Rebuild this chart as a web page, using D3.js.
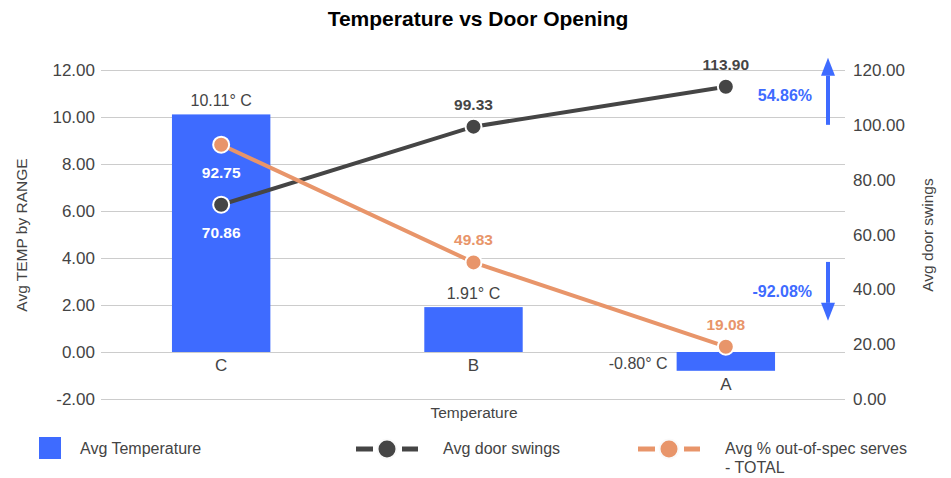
<!DOCTYPE html>
<html lang="en">
<head>
  <meta charset="UTF-8">
  <title>Temperature vs Door Opening</title>
  <script src="https://d3js.org/d3.v7.min.js"></script>
  <style>
    body { margin: 0; background: #fff; font-family: "Liberation Sans", Arial, sans-serif; }
    .tick-label { font-size: 17px; fill: #444; }
    .axis-title { font-size: 15.5px; fill: #444; }
    .legend-text { font-size: 16px; fill: #444; }
  </style>
</head>
<body>
  <div id="chart"></div>
  <script>
    const categories = ["C", "B", "A"];
    const avgTemp = [10.11, 1.91, -0.80];
    const doorSwings = [70.86, 99.33, 113.90];
    const outOfSpec = [92.75, 49.83, 19.08];
    const leftTicks = [-2, 0, 2, 4, 6, 8, 10, 12];
    const rightTicks = [0, 20, 40, 60, 80, 100, 120];
    // change annotations: [label, from, to] on the right axis
    const changes = [["54.86%", 100, 124.5], ["-92.08%", 50, 28.5]];

    const W = 951, H = 478;
    const blue = "#3e6bff", dark = "#454545", orange = "#e8956a";
    const fmt = d3.formatLocale({ decimal: ".", thousands: ",", grouping: [3], currency: ["", ""], minus: "-" }).format(".2f");

    const svg = d3.select("#chart").append("svg")
      .attr("width", W).attr("height", H);

    const x = d3.scaleBand().domain(categories).range([95, 852]).paddingInner(0.61).paddingOuter(0.305);
    const yL = d3.scaleLinear().domain([-2, 12]).range([399, 70]);
    const yR = d3.scaleLinear().domain([0, 120]).range([399, 70]);
    const cx = d => x(d) + x.bandwidth() / 2;

    // title
    svg.append("text").attr("x", 478).attr("y", 26).attr("text-anchor", "middle")
      .style("font-size", "21px").style("font-weight", "bold").attr("fill", "#000")
      .text("Temperature vs Door Opening");

    // gridlines
    svg.append("g").selectAll("line").data(leftTicks).enter().append("line")
      .attr("x1", 101).attr("x2", 845)
      .attr("y1", d => yL(d) + 0.5).attr("y2", d => yL(d) + 0.5)
      .attr("stroke", "#cccccc").attr("stroke-width", 1);

    // left ticks
    svg.append("g").selectAll("text").data(leftTicks).enter().append("text")
      .attr("class", "tick-label").attr("x", 95).attr("y", d => yL(d) + 6)
      .attr("text-anchor", "end").text(d => fmt(d));

    // right ticks
    svg.append("g").selectAll("text").data(rightTicks).enter().append("text")
      .attr("class", "tick-label").attr("x", 853).attr("y", d => yR(d) + 6)
      .text(d => fmt(d));

    // axis titles
    svg.append("text").attr("class", "axis-title")
      .attr("transform", "translate(27,235) rotate(-90)").attr("text-anchor", "middle")
      .text("Avg TEMP by RANGE");
    svg.append("text").attr("class", "axis-title")
      .attr("transform", "translate(933,235) rotate(-90)").attr("text-anchor", "middle")
      .text("Avg door swings");
    svg.append("text").attr("class", "axis-title")
      .attr("x", 474).attr("y", 418).attr("text-anchor", "middle").text("Temperature");

    // bars
    const bars = categories.map((c, i) => ({ c, v: avgTemp[i] }));
    svg.append("g").selectAll("rect").data(bars).enter().append("rect")
      .attr("x", d => x(d.c)).attr("width", x.bandwidth())
      .attr("y", d => yL(Math.max(0, d.v)))
      .attr("height", d => Math.abs(yL(d.v) - yL(0)))
      .attr("fill", blue);

    // category labels below bars
    svg.append("g").selectAll("text").data(bars).enter().append("text")
      .attr("class", "tick-label").attr("text-anchor", "middle")
      .attr("x", d => cx(d.c)).attr("y", d => yL(Math.min(0, d.v)) + 19)
      .text(d => d.c);

    // bar value labels
    svg.append("g").selectAll("text").data(bars).enter().append("text")
      .attr("class", "tick-label").style("font-size", "16px")
      .attr("text-anchor", d => d.v >= 0 ? "middle" : "end")
      .attr("x", d => d.v >= 0 ? cx(d.c) : x(d.c) - 9)
      .attr("y", d => d.v >= 0 ? yL(d.v) - 8 : yL(0) + 17)
      .text(d => fmt(d.v) + "° C");

    // line series
    function drawSeries(vals, color) {
      const pts = categories.map((c, i) => ({ c, v: vals[i], i }));
      svg.append("path").datum(pts)
        .attr("fill", "none").attr("stroke", color).attr("stroke-width", 4)
        .attr("d", d3.line().x(d => cx(d.c)).y(d => yR(d.v)));
      svg.append("g").selectAll("circle").data(pts).enter().append("circle")
        .attr("cx", d => cx(d.c)).attr("cy", d => yR(d.v)).attr("r", 8)
        .attr("fill", color).attr("stroke", "#fff").attr("stroke-width", 2);
      svg.append("g").selectAll("text").data(pts).enter().append("text")
        .attr("text-anchor", "middle").style("font-size", "15.5px").style("font-weight", "bold")
        .attr("x", d => cx(d.c))
        .attr("y", d => d.i === 0 ? yR(d.v) + 33 : yR(d.v) - 17)
        .attr("fill", d => d.i === 0 ? "#fff" : color)
        .text(d => fmt(d.v));
    }
    drawSeries(doorSwings, dark);
    drawSeries(outOfSpec, orange);

    // change arrows
    const ax = 828;
    changes.forEach(([label, from, to]) => {
      const up = to > from;
      const tip = yR(to), base = yR(from);
      const headBase = up ? tip + 18 : tip - 18;
      svg.append("line").attr("x1", ax).attr("x2", ax).attr("y1", base).attr("y2", headBase)
        .attr("stroke", blue).attr("stroke-width", 4);
      svg.append("path").attr("fill", blue)
        .attr("d", `M${ax - 7},${headBase} L${ax + 7},${headBase} L${ax},${tip} Z`);
      svg.append("text").attr("x", 812).attr("y", up ? yR(from) - 24 : yR(from) + 35)
        .attr("text-anchor", "end").attr("fill", blue)
        .style("font-size", "16px").style("font-weight", "bold").text(label);
    });

    // legend
    const lg = svg.append("g");
    lg.append("rect").attr("x", 39).attr("y", 437).attr("width", 22).attr("height", 22).attr("fill", blue);
    lg.append("text").attr("class", "legend-text").attr("x", 80).attr("y", 454).text("Avg Temperature");

    [[dark, 387, "Avg door swings"], [orange, 669, "Avg % out-of-spec serves"]].forEach(([col, lx, t]) => {
      [[-31, -14], [15, 31]].forEach(([a, b]) => {
        lg.append("line").attr("x1", lx + a).attr("x2", lx + b).attr("y1", 449).attr("y2", 449)
          .attr("stroke", col).attr("stroke-width", 5);
      });
      lg.append("circle").attr("cx", lx).attr("cy", 449).attr("r", 9.5).attr("fill", col)
        .attr("stroke", "#fafafa").attr("stroke-width", 2);
      lg.append("text").attr("class", "legend-text").attr("x", lx + 56).attr("y", 454).text(t);
    });
    lg.append("text").attr("class", "legend-text").attr("x", 725).attr("y", 473).text("- TOTAL");
  </script>
</body>
</html>
